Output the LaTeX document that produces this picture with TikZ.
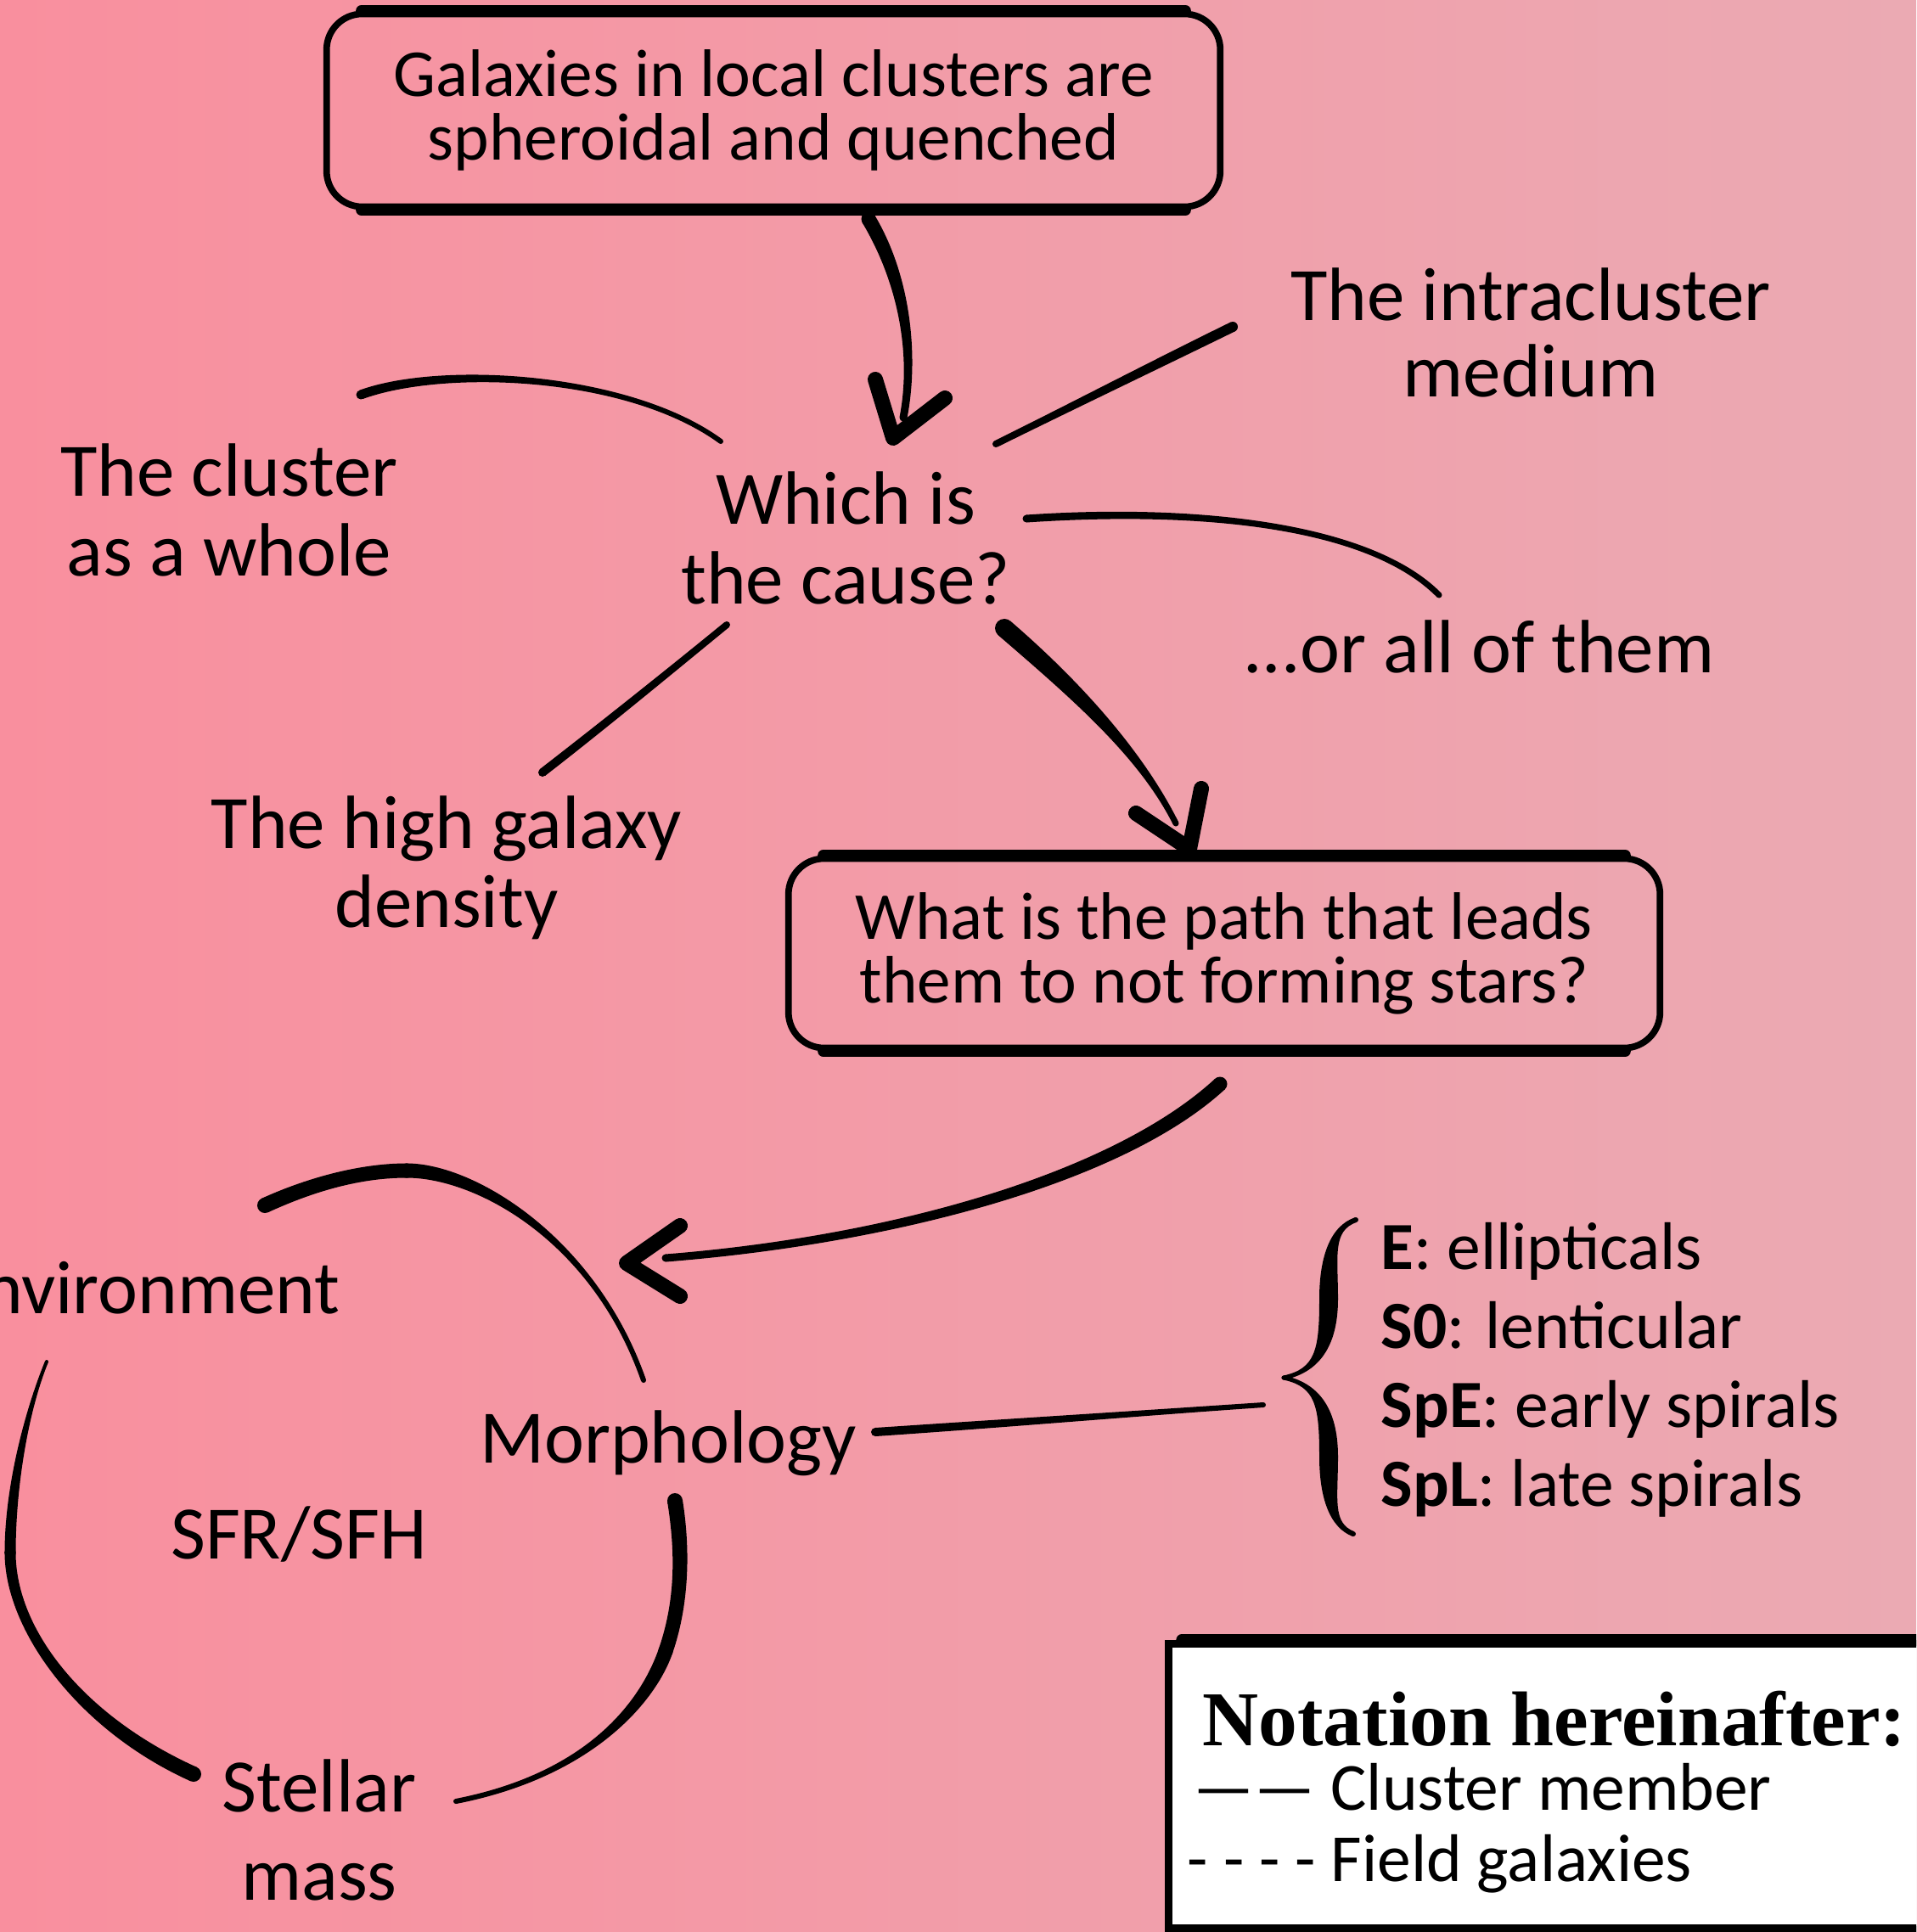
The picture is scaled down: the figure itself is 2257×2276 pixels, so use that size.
\documentclass[tikz,border=0pt]{standalone}
\usepackage{fontspec}
\setmainfont{Carlito}
\newfontfamily\headfont{Liberation Serif}
\usetikzlibrary{calc}
\definecolor{bgleft}{RGB}{249,143,158}
\definecolor{bgright}{RGB}{235,170,179}
% tapered brush stroke: 4 bezier points, start half-width, end half-width
\newcommand\bstroke[6]{%
  \fill ($(#1)!#5!90:(#2)$) .. controls ($(#2)!#5!-90:(#1)$) and ($(#3)!#6!90:(#4)$) .. ($(#4)!#6!-90:(#3)$)
   -- ($(#4)!#6!90:(#3)$) .. controls ($(#3)!#6!-90:(#4)$) and ($(#2)!#5!90:(#1)$) .. ($(#1)!#5!-90:(#2)$) -- cycle;
  \fill (#1) circle[radius=#5];
  \fill (#4) circle[radius=#6];}
\begin{document}
\begin{tikzpicture}[x=0.01cm,y=-0.01cm,
  lbl/.style={font=\fontsize{25.3}{26.5}\selectfont, align=center, inner sep=0pt},
  qbox/.style={draw=black, line width=2.2pt, rounded corners=0.42cm, align=center, inner sep=0pt,
               font=\fontsize{22.5}{21.3}\selectfont},
  headline/.style={draw=black, line width=0.18cm, line cap=round, line join=round},
  edge/.style={draw=black, line width=3.8pt, line cap=round}]
\useasboundingbox (0,0) rectangle (2257,2276);
\clip (0,0) rectangle (2257,2276);
\shade[left color=bgleft, right color=bgright] (0,0) rectangle (2257,2276);

% ---------- nodes ----------
\node[qbox, minimum width=10.52cm, minimum height=2.27cm] (top) at (911,130)
  {Galaxies in local clusters are\\spheroidal and quenched};
\draw[edge] ([xshift=0.45cm]top.north west) -- ([xshift=-0.45cm]top.north east);
\draw[edge] ([xshift=0.45cm]top.south west) -- ([xshift=-0.45cm]top.south east);

\node[lbl, font=\fontsize{25.3}{25.6}\selectfont] (icm) at (1803,392) {The intracluster\\medium};
\node[lbl] (whole) at (270,601) {The cluster\\as a whole};
\node[lbl] (cause) at (996,634) {Which is\\the cause?};
\node[lbl] (all) at (1742,762) {...or all of them};
\node[lbl] (dens) at (526,1022) {The high galaxy\\density};

\node[qbox, minimum width=10.26cm, minimum height=2.23cm] (path) at (1442,1123)
  {What is the path that leads\\them to not forming stars?};
\draw[edge] ([xshift=0.45cm]path.north west) -- ([xshift=-0.45cm]path.north east);
\draw[edge] ([xshift=0.45cm]path.south west) -- ([xshift=-0.45cm]path.south east);

\node[lbl, anchor=east] (env) at (401,1517) {Environment};
\node[lbl] (morph) at (787,1700) {Morphology};
\node[lbl] (sfr) at (352,1807) {SFR/SFH};
\node[lbl, font=\fontsize{25.3}{29.6}\selectfont] (mass) at (376,2156) {Stellar\\mass};

\node[anchor=west, align=left, inner sep=0pt, font=\fontsize{22.6}{26.5}\selectfont] (mlist) at (1626,1614)
  {\textbf{E}: ellipticals\\\textbf{S0}: lenticular\\\textbf{SpE}: early spirals\\\textbf{SpL}: late spirals};

% ---------- notation box ----------
\node[draw=black, fill=white, line width=2.5pt, minimum width=9.4cm, minimum height=3.35cm,
      anchor=north west, inner sep=0pt] (notebox) at (1372,1932) {};
\draw[edge] ([xshift=0.2cm]notebox.north west) -- (notebox.north east);
\draw[edge] ([xshift=0.2cm]notebox.south west) -- (notebox.south east);
\node[anchor=west, inner sep=0pt, font=\headfont\bfseries\fontsize{26}{26}\selectfont] (nh) at (1416,2025)
  {Notation hereinafter:};
\node[anchor=west, inner sep=0pt, font=\fontsize{22.6}{26}\selectfont] (n1) at (1405,2105) {—— Cluster member};
\node[anchor=west, inner sep=0pt, font=\fontsize{22.6}{26}\selectfont] (n2) at (1398,2196) {- - - - Field galaxies};

% ---------- connectors ----------
% top box -> cause
\coordinate (a1s) at (1023,258);
\coordinate (a1e) at (1064,492);
\bstroke{a1s}{1066,330}{1078,420}{a1e}{0.085cm}{0.045cm}
\draw[headline] (1031,447) -- (1052,516) -- (1113,469);

% cause -> cluster as a whole
\coordinate (s2a) at (849,520);
\coordinate (s2b) at (425,465);
\bstroke{s2b}{520,430}{740,440}{s2a}{0.055cm}{0.03cm}

% cause -> intracluster medium
\coordinate (s3a) at (1173,523);
\coordinate (s3b) at (1452,385);
\bstroke{s3a}{1260,480}{1360,430}{s3b}{0.04cm}{0.06cm}

% cause -> or all of them
\coordinate (s4a) at (1209,611);
\coordinate (s4b) at (1695,701);
\bstroke{s4a}{1400,598}{1610,615}{s4b}{0.045cm}{0.035cm}

% cause -> high galaxy density
\coordinate (s5a) at (856,736);
\coordinate (s5b) at (639,910);
\bstroke{s5a}{790,790}{710,855}{s5b}{0.04cm}{0.05cm}

% cause -> path box
\coordinate (a6s) at (1183,740);
\coordinate (a6e) at (1385,970);
\bstroke{a6s}{1270,815}{1345,890}{a6e}{0.11cm}{0.035cm}
\draw[headline] (1338,958) -- (1401,1000) -- (1415,929);

% path box -> morphology cycle
\coordinate (a7s) at (1437,1277);
\coordinate (a7e) at (784,1482);
\bstroke{a7s}{1320,1385}{1060,1460}{a7e}{0.085cm}{0.045cm}
\draw[headline] (801,1444) -- (738,1488) -- (801,1527);

% cycle arcs
\coordinate (c1a) at (312,1420);
\coordinate (c1m) at (479,1379);
\coordinate (c1b) at (758,1626);
\bstroke{c1a}{360,1398}{420,1379}{c1m}{0.09cm}{0.085cm}
\bstroke{c1m}{560,1379}{700,1460}{c1b}{0.085cm}{0.03cm}
\coordinate (c2a) at (795,1768);
\coordinate (c2m) at (784,1945);
\coordinate (c2b) at (537,2122);
\bstroke{c2a}{805,1830}{803,1890}{c2m}{0.09cm}{0.085cm}
\bstroke{c2m}{765,2000}{700,2090}{c2b}{0.085cm}{0.03cm}
\coordinate (c3a) at (55,1604);
\coordinate (c3m) at (12,1829);
\coordinate (c3b) at (228,2090);
\bstroke{c3a}{32,1660}{12,1750}{c3m}{0.02cm}{0.065cm}
\bstroke{c3m}{12,1920}{95,2030}{c3b}{0.065cm}{0.09cm}

% morphology -> brace
\coordinate (s9a) at (1031,1687);
\coordinate (s9b) at (1488,1655);
\bstroke{s9a}{1180,1677}{1340,1665}{s9b}{0.05cm}{0.03cm}

% brace
\bstroke{1597,1437}{1568,1447}{1565,1480}{1565,1530}{0.03cm}{0.11cm}
\bstroke{1565,1530}{1565,1590}{1550,1615}{1512,1623}{0.11cm}{0.025cm}
\bstroke{1512,1623}{1550,1631}{1565,1656}{1565,1716}{0.025cm}{0.11cm}
\bstroke{1565,1716}{1565,1766}{1568,1797}{1594,1807}{0.11cm}{0.03cm}
\end{tikzpicture}
\end{document}
